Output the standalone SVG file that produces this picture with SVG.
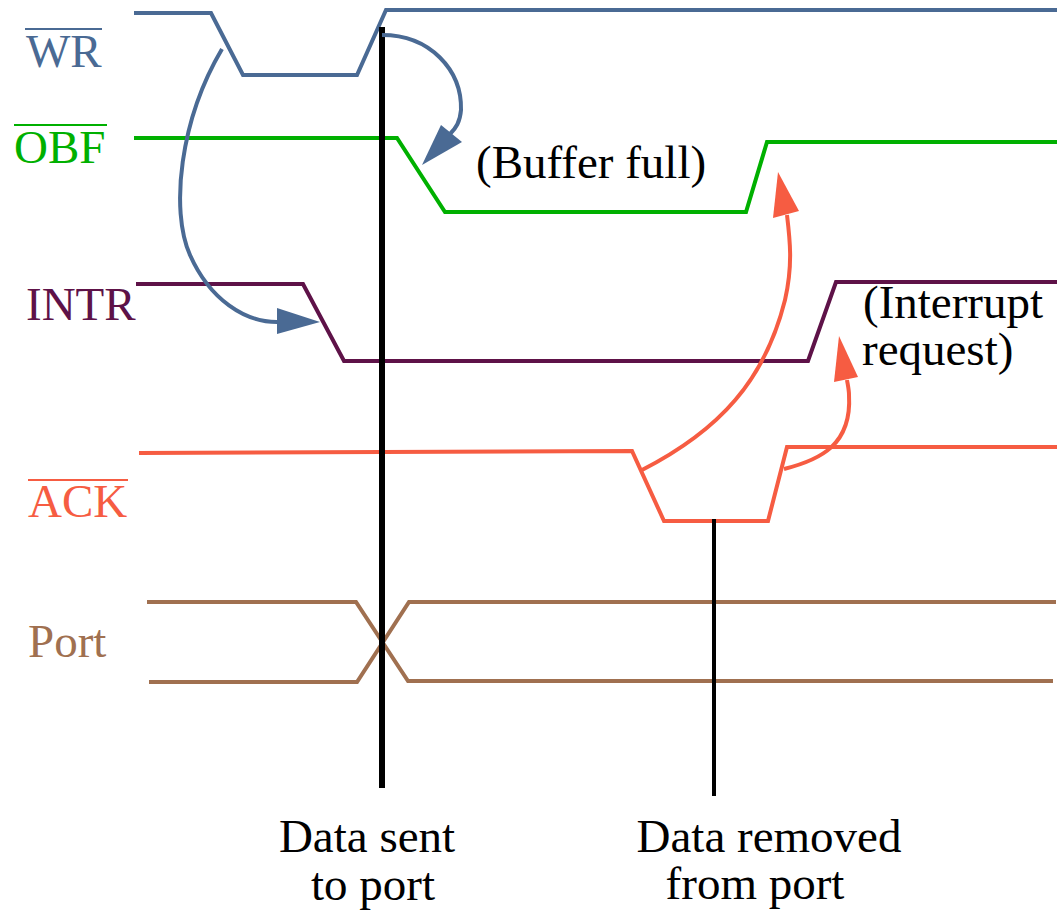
<svg xmlns="http://www.w3.org/2000/svg" width="1057" height="911" viewBox="0 0 1057 911">
<style>
.sig{fill:none;stroke-width:4;stroke-linejoin:miter}
.lbl{font-family:'Liberation Serif','DejaVu Serif','Times New Roman',serif;font-size:47px}
.note{font-family:'Liberation Serif','DejaVu Serif','Times New Roman',serif;font-size:47px;fill:#000}
.blue{stroke:#4a6a94}
.green{stroke:#00b000}
.purple{stroke:#5e1248}
.orange{stroke:#f65c42}
.brown{stroke:#a07050}
</style>
<rect width="1057" height="911" fill="#fff"/>
<g id="wr">
<polyline class="sig blue" points="134,13 211,13 243,75 357,75 386,10 1057,10"/>
<text class="lbl" x="26" y="67" fill="#4a6a94">WR</text>
<line x1="25" y1="29" x2="102" y2="29" stroke="#4a6a94" stroke-width="2"/>
</g>
<g id="obf">
<polyline class="sig green" points="134,138 397,138 445,212 746,212 767,142 1057,142"/>
<text class="lbl" x="14" y="163" fill="#00b000">OBF</text>
<line x1="14" y1="125" x2="107" y2="125" stroke="#00b000" stroke-width="2"/>
<text class="note" x="476" y="178">(Buffer full)</text>
</g>
<g id="intr">
<polyline class="sig purple" points="136,284 303,284 344,361 808,361 836,282 1057,282"/>
<text class="lbl" x="26" y="320" fill="#5e1248">INTR</text>
<text class="note" x="863" y="318">(Interrupt</text>
<text class="note" x="862" y="365">request)</text>
</g>
<g id="ack">
<polyline class="sig orange" points="139,453 632,451 664,521 768,521 787,447 1057,447"/>
<text class="lbl" x="28" y="517" fill="#f65c42">ACK</text>
<line x1="28" y1="480" x2="128" y2="480" stroke="#f65c42" stroke-width="2"/>
</g>
<g id="port">
<polyline class="sig brown" points="147,602 356,602 408,681 1053,681"/>
<polyline class="sig brown" points="149,682 357,682 409,602 1056,602"/>
<text class="lbl" x="28" y="657" fill="#a07050">Port</text>
</g>
<g id="markers">
<line x1="382" y1="27" x2="382" y2="788" stroke="#000" stroke-width="6"/>
<line x1="714" y1="519" x2="714" y2="796" stroke="#000" stroke-width="4"/>
<text class="note" x="367" y="852" text-anchor="middle">Data sent</text>
<text class="note" x="373" y="900" text-anchor="middle">to port</text>
<text class="note" x="769" y="852" text-anchor="middle">Data removed</text>
<text class="note" x="755" y="899" text-anchor="middle">from port</text>
</g>
<g id="connectors">
<path d="M222,49 C180,120 170,210 190,255 C210,300 245,322 277,322" fill="none" stroke="#4a6a94" stroke-width="4"/>
<polygon points="320,322 277,308 277,334" fill="#4a6a94"/>
<path d="M382,35 C430,35 462,70 461,110 C460,122 456,128 450,134" fill="none" stroke="#4a6a94" stroke-width="4"/>
<polygon points="422,165 441,125 462,142" fill="#4a6a94"/>
<path d="M642,470 C720,430 765,380 785,300 C793,265 790,240 787,215" fill="none" stroke="#f65c42" stroke-width="4"/>
<polygon points="778,172 773,218 799,211" fill="#f65c42"/>
<path d="M784,469 C820,460 852,445 849,395 C849,390 848,386 847,380" fill="none" stroke="#f65c42" stroke-width="4"/>
<polygon points="839,336 834,382 858,377" fill="#f65c42"/>
</g>
</svg>
